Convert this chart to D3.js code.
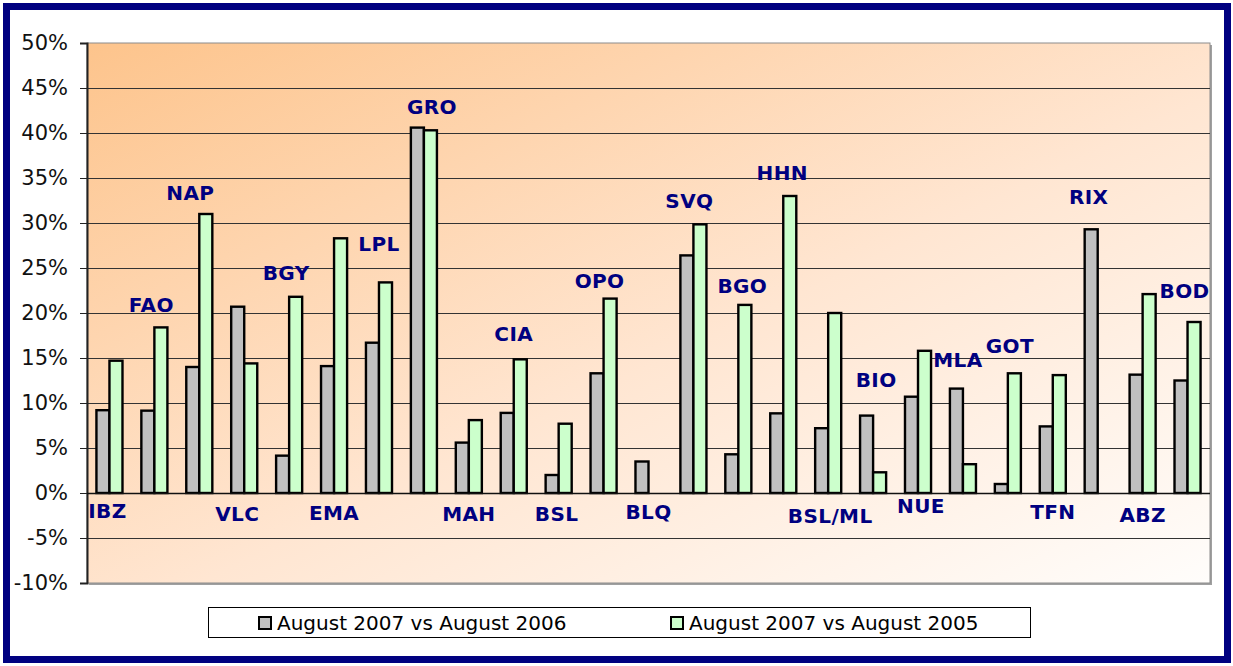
<!DOCTYPE html>
<html>
<head>
<meta charset="utf-8">
<script src="https://cdn.jsdelivr.net/npm/d3@7"></script>
<style>
  body { margin: 0; background: #fff; }
  svg { display: block; font-family: "DejaVu Sans", Verdana, sans-serif; }
  .grid line { stroke: #333; stroke-width: 1; }
  .bar { stroke: #000; stroke-width: 2.4; }
  .code { fill: #000080; font-weight: bold; font-size: 20px; letter-spacing: 0.4px; }
</style>
</head>
<body>
<svg width="1233" height="666"></svg>
<script>

// aeropuertos, en el orden del grafico
var airports = ["IBZ", "FAO", "NAP", "VLC", "BGY", "EMA", "LPL", "GRO", "MAH", "CIA",
  "BSL", "OPO", "BLQ", "SVQ", "BGO", "HHN", "BSL/ML", "BIO", "NUE", "MLA",
  "GOT", "TFN", "RIX", "ABZ", "BOD"];

// variacion en % (null = sin barra)
var vs2006 = [9.2, 9.15, 14.0, 20.7, 4.15, 14.1, 16.7, 40.6, 5.6, 8.9,
  2.0, 13.3, 3.5, 26.4, 4.3, 8.85, 7.2, 8.6, 10.7, 11.6,
  1.0, 7.4, 29.3, 13.15, 12.5];
var vs2005 = [14.7, 18.4, 31.0, 14.4, 21.8, 28.3, 23.4, 40.3, 8.1, 14.85,
  7.7, 21.6, null, 29.85, 20.9, 33.0, 20.0, 2.3, 15.8, 3.2,
  13.3, 13.1, null, 22.1, 19.0];

var seriesNames = ["August 2007 vs August 2006", "August 2007 vs August 2005"];
var yTicks = [-10, -5, 0, 5, 10, 15, 20, 25, 30, 35, 40, 45, 50];

var svg = d3.select("svg"),
    plot = {left: 87, right: 1210, top: 43, bottom: 583};

var colors = ["#c0c0c0", "#ccffcc"];

var x = d3.scaleBand()
    .domain(airports)
    .range([plot.left, plot.right])
    .paddingInner(0.42)
    .paddingOuter(0.21);

var x1 = d3.scaleBand()
    .domain([0, 1])
    .range([0, x.bandwidth()]);

var y = d3.scaleLinear()
    .domain([-10, 50])
    .range([plot.bottom, plot.top]);

// fondo degradado naranja
var grad = svg.append("defs").append("linearGradient")
    .attr("id", "bg")
    .attr("x1", 0).attr("y1", 0).attr("x2", 1).attr("y2", 1);
grad.append("stop").attr("offset", 0).attr("stop-color", "#fdc48c");
grad.append("stop").attr("offset", 0.55).attr("stop-color", "#ffe6d2");
grad.append("stop").attr("offset", 1).attr("stop-color", "#fffdfb");

// marco azul exterior
svg.append("rect")
    .attr("x", 6.5).attr("y", 6.5)
    .attr("width", 1221).attr("height", 653)
    .attr("fill", "#fff")
    .attr("stroke", "#000080")
    .attr("stroke-width", 7);

// sombra del area del grafico
svg.append("rect")
    .attr("x", plot.left + 2).attr("y", plot.top + 2)
    .attr("width", plot.right - plot.left).attr("height", plot.bottom - plot.top)
    .attr("fill", "#a0a0a0");

svg.append("rect")
    .attr("x", plot.left).attr("y", plot.top)
    .attr("width", plot.right - plot.left).attr("height", plot.bottom - plot.top)
    .attr("fill", "url(#bg)")
    .attr("stroke", "#8c8c8c")
    .attr("stroke-width", 1);

// lineas de rejilla
svg.append("g")
    .attr("class", "grid")
    .selectAll("line")
    .data(yTicks.filter(d => d != 50 && d != -10))
    .enter().append("line")
      .attr("x1", plot.left).attr("x2", plot.right)
      .attr("y1", d => y(d) + 0.5).attr("y2", d => y(d) + 0.5);

// eje y
var yAxis = svg.append("g")
    .attr("transform", "translate(" + plot.left + ",0)")
    .call(d3.axisLeft(y).tickValues(yTicks).tickFormat(d => d + "%").tickSize(7).tickPadding(12));
yAxis.select(".domain").attr("stroke", "#222").attr("stroke-width", 2);
yAxis.selectAll(".tick line").attr("stroke", "#222");
yAxis.selectAll("text")
    .attr("fill", "#111")
    .style("font-size", "21px")
    .style("font-family", "DejaVu Sans, Verdana, sans-serif");

// barras
var rows = airports.map((a, i) => ({airport: a, values: [vs2006[i], vs2005[i]]}));

var groups = svg.append("g").selectAll("g")
    .data(rows)
    .enter().append("g")
      .attr("transform", d => "translate(" + x(d.airport) + ",0)");

groups.selectAll("rect")
    .data(d => d.values.map((v, k) => ({k: k, v: v})).filter(e => e.v != null))
    .enter().append("rect")
      .attr("class", "bar")
      .attr("x", e => x1(e.k))
      .attr("width", x1.bandwidth())
      .attr("y", e => y(Math.max(0, e.v)))
      .attr("height", e => Math.abs(y(e.v) - y(0)))
      .attr("fill", e => colors[e.k]);

// eje de categorias en 0%
svg.append("line")
    .attr("x1", plot.left).attr("x2", plot.right)
    .attr("y1", y(0) + 0.5).attr("y2", y(0) + 0.5)
    .attr("stroke", "#111").attr("stroke-width", 1.5);

// etiquetas de aeropuerto: [desplazamiento x, nivel en % de la linea base]
var labelPos = {
  "IBZ": [-2, -2.8], "FAO": [-3, 20.1], "NAP": [-9, 32.6], "VLC": [-7, -3.1],
  "BGY": [-3, 23.7], "EMA": [0, -3.0], "LPL": [0, 26.9], "GRO": [8, 42.1],
  "MAH": [0, -3.1], "CIA": [0, 16.9], "BSL": [-2, -3.1], "OPO": [-4, 22.8],
  "BLQ": [0, -2.9], "SVQ": [-4, 31.7], "BGO": [4, 22.2], "HHN": [-1, 34.8],
  "BSL/ML": [2, -3.3], "BIO": [3, 11.8], "NUE": [3, -2.2], "MLA": [-5, 14.0],
  "GOT": [2, 15.6], "TFN": [0, -2.9], "RIX": [-9, 32.1], "ABZ": [0, -3.2],
  "BOD": [-3, 21.7]
};

svg.append("g").selectAll("text")
    .data(airports)
    .enter().append("text")
      .attr("class", "code")
      .attr("text-anchor", "middle")
      .attr("x", d => x(d) + x.bandwidth() / 2 + labelPos[d][0])
      .attr("y", d => y(labelPos[d][1]))
      .text(d => d);

// leyenda
var legend = svg.append("g");
legend.append("rect")
    .attr("x", 208.5).attr("y", 607.5)
    .attr("width", 822).attr("height", 30)
    .attr("fill", "#fff")
    .attr("stroke", "#000").attr("stroke-width", 1);

var legendX = [258, 670];
var item = legend.selectAll("g.item")
    .data(seriesNames)
    .enter().append("g")
      .attr("class", "item")
      .attr("transform", (d, i) => "translate(" + legendX[i] + ",616)");

item.append("rect")
    .attr("x", 1).attr("y", 1)
    .attr("width", 12).attr("height", 12)
    .attr("fill", (d, i) => colors[i])
    .attr("stroke", "#000").attr("stroke-width", 2);

item.append("text")
    .attr("x", 19).attr("y", 14)
    .style("font-size", "20px")
    .attr("fill", "#000")
    .text(d => d);

</script>
</body>
</html>
